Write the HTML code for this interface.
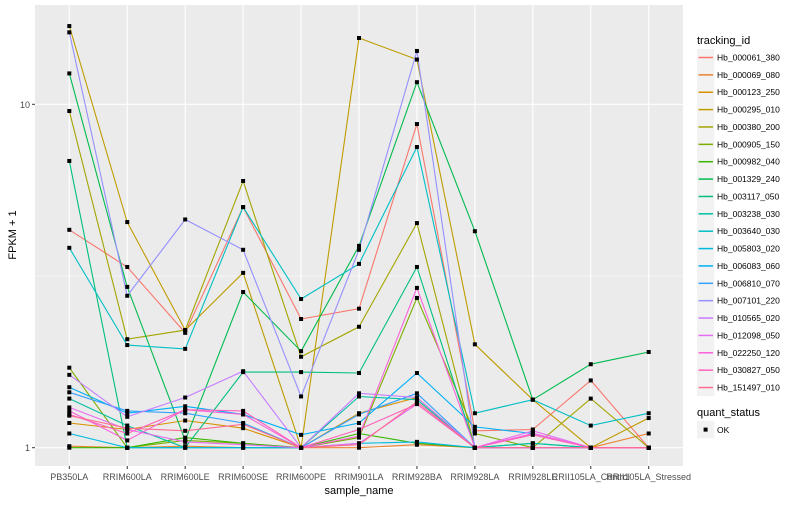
<!DOCTYPE html>
<html><head><meta charset="utf-8"><style>
body{margin:0;background:#fff;}
svg text{font-family:"Liberation Sans",Arial,sans-serif;}
</style></head><body>
<svg id="chart" width="800" height="500" xmlns="http://www.w3.org/2000/svg">
<rect x="0" y="0" width="800" height="500" fill="#fff"/>
<rect x="35" y="5" width="648" height="461" fill="#EBEBEB"/>
<g id="grid"></g>
<g id="series"></g>
<g id="axes"></g>
<g id="legend"></g>
</svg>
<script>
const categories = ["PB350LA","RRIM600LA","RRIM600LE","RRIM600SE","RRIM600PE","RRIM901LA","RRIM928BA","RRIM928LA","RRIM928LE","RRII105LA_Control","RRII105LA_Stressed"];
const seriesNames = ["Hb_000061_380","Hb_000069_080","Hb_000123_250","Hb_000295_010","Hb_000380_200","Hb_000905_150","Hb_000982_040","Hb_001329_240","Hb_003117_050","Hb_003238_030","Hb_003640_030","Hb_005803_020","Hb_006083_060","Hb_006810_070","Hb_007101_220","Hb_010565_020","Hb_012098_050","Hb_022250_120","Hb_030827_050","Hb_151497_010"];
const seriesColors = ["#F8766D","#EA8331","#D89000","#C09B00","#A3A500","#7CAE00","#39B600","#00BB4E","#00BF7D","#00C1A3","#00BFC4","#00BAE0","#00B0F6","#35A2FF","#9590FF","#C77CFF","#E76BF3","#FA62DB","#FF62BC","#FF6C91"];
const s01 = [4.31,3.36,2.16,5.02,2.37,2.54,8.76,1.12,1.13,1.57,1.0];
const s02 = [1.01,1.0,1.01,1.0,1.0,1.0,1.02,1.0,1.0,1.0,1.10];
const s03 = [1.18,1.13,1.20,1.14,1.0,1.26,1.40,1.0,1.0,1.0,1.0];
const s04 = [16.9,4.54,2.20,3.23,1.0,15.6,13.5,2.0,1.38,1.0,1.22];
const s05 = [9.56,2.07,2.20,5.98,1.84,2.25,4.51,1.0,1.0,1.39,1.0];
const s06 = [1.71,1.0,1.05,1.03,1.0,1.07,2.73,1.10,1.0,1.0,1.0];
const s07 = [1.0,1.0,1.07,1.03,1.0,1.10,1.03,1.0,1.0,1.0,1.0];
const s08 = [12.3,2.94,1.05,2.84,1.91,3.87,11.6,4.27,1.38,1.75,1.90];
const s09 = [6.84,1.0,1.0,1.66,1.66,1.65,3.36,1.0,1.03,1.0,1.0];
const s10 = [1.39,1.16,1.0,1.0,1.0,1.41,1.38,1.0,1.03,1.0,1.0];
const s11 = [3.82,1.99,1.94,5.02,2.71,3.43,7.51,1.26,1.38,1.16,1.26];
const s12 = [1.10,1.0,1.0,1.0,1.0,1.03,1.04,1.0,1.0,1.0,1.0];
const s13 = [1.50,1.26,1.32,1.25,1.09,1.18,1.65,1.15,1.10,1.0,1.0];
const s14 = [1.45,1.28,1.26,1.18,1.0,1.25,1.44,1.0,1.0,1.0,1.0];
const s15 = [16.2,2.77,4.62,3.77,1.41,3.77,14.3,1.0,1.0,1.0,1.0];
const s16 = [1.63,1.23,1.40,1.67,1.0,1.44,1.40,1.0,1.0,1.0,1.0];
const s17 = [1.31,1.13,1.04,1.02,1.0,1.03,1.34,1.0,1.12,1.0,1.0];
const s18 = [1.28,1.05,1.29,1.25,1.0,1.08,2.92,1.0,1.10,1.0,1.0];
const s19 = [1.25,1.10,1.29,1.28,1.0,1.13,1.34,1.0,1.09,1.0,1.0];
const s20 = [1.24,1.14,1.12,1.17,1.0,1.02,1.36,1.0,1.0,1.0,1.0];
const seriesValues = [s01,s02,s03,s04,s05,s06,s07,s08,s09,s10,s11,s12,s13,s14,s15,s16,s17,s18,s19,s20];
const yTickValues = [1,10];
const yTickLabels = ["1","10"];
const yMinorValues = [Math.sqrt(10)];

const NS="http://www.w3.org/2000/svg";
function mk(tag,attrs,parent){const e=document.createElementNS(NS,tag);for(const k in attrs)e.setAttribute(k,attrs[k]);parent.appendChild(e);return e;}
function xScale(i){return 69.3+i*57.94;}
function yScale(v){return 447.7-343.4*Math.log10(v);}

const grid=document.getElementById('grid');
yMinorValues.forEach(v=>{const l=mk('line',{x1:35,x2:683,y1:yScale(v),y2:yScale(v),stroke:'#fff','stroke-width':0.6},grid);

});
yTickValues.forEach(v=>{const l=mk('line',{x1:35,x2:683,y1:yScale(v),y2:yScale(v),stroke:'#fff','stroke-width':1.1},grid);

});
categories.forEach((c,i)=>{const l=mk('line',{x1:xScale(i),x2:xScale(i),y1:5,y2:466,stroke:'#fff','stroke-width':1.1},grid);

});

const sg=document.getElementById('series');
seriesValues.forEach((vals,si)=>{
  const pts=vals.map((v,i)=>xScale(i).toFixed(1)+','+yScale(v).toFixed(1)).join(' ');
  const pl=mk('polyline',{points:pts,fill:'none',stroke:seriesColors[si],'stroke-width':1.1},sg);
  
  
});
seriesValues.forEach((vals,si)=>{
  vals.forEach((v,i)=>{
    const r=mk('rect',{x:xScale(i)-2,y:yScale(v)-2,width:4,height:4,fill:'#000'},sg);
    
    
  });
});

const ax=document.getElementById('axes');
yTickValues.forEach((v,i)=>{
  const t=mk('line',{x1:32,x2:35,y1:yScale(v),y2:yScale(v),stroke:'#333','stroke-width':1},ax);
  
  
  const tx=mk('text',{x:30,y:yScale(v)+3.5,'text-anchor':'end','font-size':9,fill:'#4D4D4D'},ax);
  tx.textContent=yTickLabels[i];
  
  
});
categories.forEach((c,i)=>{
  const t=mk('line',{x1:xScale(i),x2:xScale(i),y1:466,y2:469,stroke:'#333','stroke-width':1},ax);
  
  
  const tx=mk('text',{x:xScale(i),y:480,'text-anchor':'middle','font-size':9,fill:'#4D4D4D'},ax);
  tx.textContent=c;
  
  
});
const xt=mk('text',{x:359,y:494,'text-anchor':'middle','font-size':11,fill:'#000'},ax);
xt.textContent='sample_name';


const yt=mk('text',{x:0,y:0,'text-anchor':'middle','font-size':11,fill:'#000',transform:'translate(16,235) rotate(-90)'},ax);
yt.textContent='FPKM + 1';



const lg=document.getElementById('legend');
const lt=mk('text',{x:697,y:44,'font-size':11,fill:'#000'},lg);
lt.textContent='tracking_id';


seriesNames.forEach((n,i)=>{
  const cy=57.5+i*17.37;
  const g=mk('g',{},lg);
  
  
  mk('rect',{x:697,y:cy-8.6,width:17.3,height:17.3,fill:'#F2F2F2'},g);
  mk('line',{x1:698.5,x2:713,y1:cy,y2:cy,stroke:seriesColors[i],'stroke-width':1.5},g);
  const t=mk('text',{x:717,y:cy+3,'font-size':8.5,fill:'#000'},g);
  t.textContent=n;
});
const qt=mk('text',{x:697,y:416,'font-size':11,fill:'#000'},lg);
qt.textContent='quant_status';


const qg=mk('g',{},lg);


mk('rect',{x:697,y:421,width:17.3,height:17.3,fill:'#F2F2F2'},qg);
mk('rect',{x:703.6,y:427.6,width:4,height:4,fill:'#000'},qg);
const ok=mk('text',{x:717,y:433,'font-size':8.5,fill:'#000'},qg);
ok.textContent='OK';
</script>
</body></html>
